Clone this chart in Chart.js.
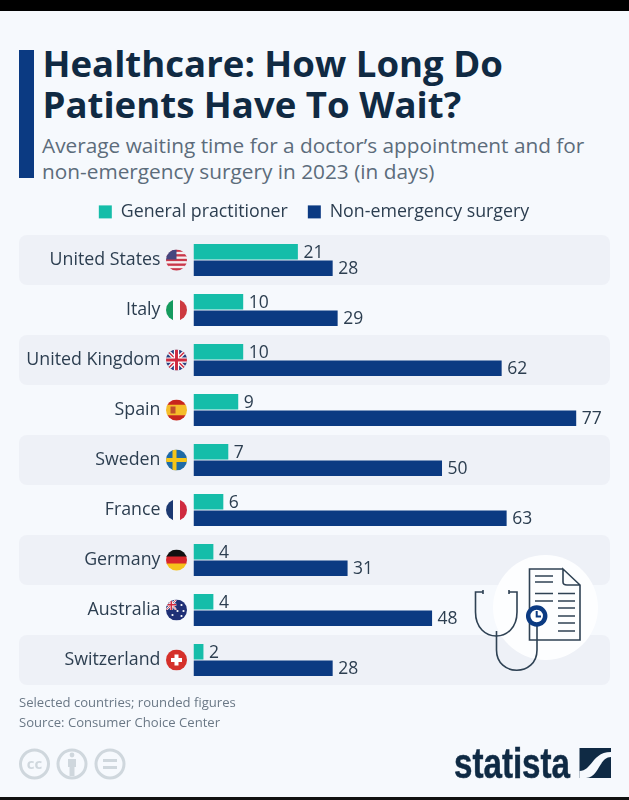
<!DOCTYPE html>
<html><head><meta charset="utf-8">
<script src="https://cdn.jsdelivr.net/npm/chart.js@4"></script>
<style>
html,body{margin:0;padding:0;background:#f6f9fd;width:629px;height:800px;overflow:hidden;font-family:"Open Sans",sans-serif}
.abs{position:absolute;white-space:nowrap}
#chart{position:absolute;left:0;top:0}
#art{position:absolute;left:0;top:0;pointer-events:none}
</style></head><body>
<div class="abs" style="left:0;top:0;width:629px;height:11px;background:#000"></div>
<div class="abs" style="left:0;top:797px;width:629px;height:3px;background:#111"></div>
<div class="abs" style="left:19px;top:50px;width:14.5px;height:128px;background:#0b3a82"></div>
<div class="abs" style="left:42.5px;top:43px;font-weight:700;font-size:36.6px;line-height:41px;color:#102a43">Healthcare: How Long Do<br>Patients Have To Wait?</div>
<div class="abs" style="left:42px;top:132px;font-size:20.8px;line-height:26px;color:#5c6c7b">Average waiting time for a doctor’s appointment and for<br>non-emergency surgery in 2023 (in days)</div>
<canvas id="chart" width="629" height="800" style="width:629px;height:800px"></canvas>
<svg id="art" width="629" height="800" viewBox="0 0 629 800">
  <circle cx="545.5" cy="607.5" r="52.5" fill="#fdfeff"/>
  <g fill="none" stroke="#2f4254" stroke-width="1.6">
    <path d="M563 569H529.5V640H580V585L563 569V582Q563 585 567 585H580"/>
    <path d="M535 576H553M535 582H553M535 593.5H553M535 601H553M558 593.5H575M558 601H575M558 608H575M558 616H575M558 623H575M558 631H575"/>
    <path d="M483 592H475.5V612C475.5 644 517 644 517 612V592H509M483 590V594M509 590V594"/>
    <path d="M496.5 631V650C496.5 677 537 677 537 650V625"/>
  </g>
  <circle cx="536.7" cy="616" r="8.5" fill="#fff" stroke="#0b3a82" stroke-width="4.5"/>
  <path d="M536.7 611V616.5H541" fill="none" stroke="#0b3a82" stroke-width="2"/>
  <g fill="none" stroke="#cfd7dd" stroke-width="3">
    <circle cx="34.5" cy="764" r="14"/><circle cx="72" cy="764" r="14"/><circle cx="110" cy="764" r="14"/>
  </g>
  <text x="34.5" y="769" text-anchor="middle" font-family="Open Sans" font-weight="700" font-size="15" fill="#cfd7dd">cc</text>
  <path d="M68 759h8v8h-1.5v9h-5v-9H68z" fill="#cfd7dd"/><circle cx="72" cy="755" r="2.4" fill="#cfd7dd"/>
  <path d="M103 760.5h14M103 767.5h14" stroke="#cfd7dd" stroke-width="3"/>
  <text x="454" y="778" font-family="Liberation Sans" font-weight="700" font-size="42" textLength="116" lengthAdjust="spacingAndGlyphs" fill="#0f2a44" stroke="#0f2a44" stroke-width=".5">statista</text>
  <rect x="579.5" y="748" width="31.5" height="30" fill="#0f2a44"/>
  <path d="M579.5 778V771C592 771 592 752 611 752V757C599 757 599 778 586 778Z" fill="#f6f9fd"/>
</svg>
<div class="abs" style="left:19px;top:692px;font-size:13.1px;line-height:20px;color:#6a7886">Selected countries; rounded figures<br>Source: Consumer Choice Center</div>
<script>
const countries = ["United States","Italy","United Kingdom","Spain","Sweden","France","Germany","Australia","Switzerland"];
const seriesNames = ["General practitioner","Non-emergency surgery"];
const generalPractitioner = [21,10,10,9,7,6,4,4,2];
const nonEmergencySurgery = [28,29,62,77,50,63,31,48,28];
const TEAL="#15bda9", NAVY="#0b3a82", INK="#2c3e50";

function stripesH(c,x,y,r,cols){const h=2*r/cols.length;cols.forEach((k,i)=>{c.fillStyle=k;c.fillRect(x-r,y-r+i*h,2*r,h+.5)})}
function stripesV(c,x,y,r,cols){const w=2*r/cols.length;cols.forEach((k,i)=>{c.fillStyle=k;c.fillRect(x-r+i*w,y-r,w+.5,2*r)})}
function line(c,col,w,pts){c.strokeStyle=col;c.lineWidth=w;c.beginPath();pts.forEach((p,i)=>i?c.lineTo(p[0],p[1]):c.moveTo(p[0],p[1]));c.stroke()}
function union(c,x,y,r){c.fillStyle="#2a3f7e";c.fillRect(x-r,y-r,2*r,2*r);
  line(c,"#fff",r*.38,[[x-r,y-r],[x+r,y+r]]);line(c,"#fff",r*.38,[[x-r,y+r],[x+r,y-r]]);
  line(c,"#cf2a3f",r*.14,[[x-r,y-r],[x+r,y+r]]);line(c,"#cf2a3f",r*.14,[[x-r,y+r],[x+r,y-r]]);
  line(c,"#fff",r*.5,[[x-r,y],[x+r,y]]);line(c,"#fff",r*.5,[[x,y-r],[x,y+r]]);
  line(c,"#cf2a3f",r*.28,[[x-r,y],[x+r,y]]);line(c,"#cf2a3f",r*.28,[[x,y-r],[x,y+r]]);}
function dot(c,x,y,s,col){c.fillStyle=col;c.beginPath();c.arc(x,y,s,0,7);c.fill()}
const flags={
 "United States":(c,x,y,r)=>{stripesH(c,x,y,r,["#c9374a","#f5eef0","#c9374a","#f5eef0","#c9374a","#f5eef0","#c9374a","#f5eef0","#c9374a"]);c.fillStyle="#46467f";c.fillRect(x-r,y-r,r,r*.95)},
 "Italy":(c,x,y,r)=>stripesV(c,x,y,r,["#169b5e","#fbfbfb","#cd3a40"]),
 "United Kingdom":union,
 "Spain":(c,x,y,r)=>{stripesH(c,x,y,r,["#c8261d","#f5bd2a","#f5bd2a","#c8261d"]);c.fillStyle="#c0502a";c.fillRect(x-6,y-3.5,5,7)},
 "Sweden":(c,x,y,r)=>{c.fillStyle="#1f6aa5";c.fillRect(x-r,y-r,2*r,2*r);c.fillStyle="#f5c518";c.fillRect(x-r,y-2,2*r,4);c.fillRect(x-4,y-r,4,2*r)},
 "France":(c,x,y,r)=>stripesV(c,x,y,r,["#1d3a72","#fbfbfb","#cf2a3f"]),
 "Germany":(c,x,y,r)=>stripesH(c,x,y,r,["#111","#d8262c","#f6c21c"]),
 "Australia":(c,x,y,r)=>{c.fillStyle="#1f3076";c.fillRect(x-r,y-r,2*r,2*r);
   c.save();c.beginPath();c.rect(x-r,y-r,r,r);c.clip();union(c,x-r/2,y-r/2,r/2);c.restore();
   [[-4,5],[5,-5],[1,1],[7,1],[5,6]].forEach(p=>dot(c,x+p[0],y+p[1],1.1,"#fff"))},
 "Switzerland":(c,x,y,r)=>{c.fillStyle="#d5302a";c.fillRect(x-r,y-r,2*r,2*r);c.fillStyle="#fff";c.fillRect(x-5.5,y-2,11,4);c.fillRect(x-2,y-5.5,4,11)}
};
const rowDecor={id:"rowDecor",
 beforeLayout(chart){const l=chart.legend;if(l&&!l._trim){l._trim=true;const f=l.fit;l.fit=function(){f.call(this);this.height=52}}},
 beforeDraw(chart){const c=chart.ctx,y=chart.scales.y,a=chart.chartArea,h=y.getPixelForValue(1)-y.getPixelForValue(0);
  c.save();c.fillStyle="#eef1f7";countries.forEach((n,i)=>{if(i%2)return;const p=y.getPixelForValue(i);c.beginPath();c.roundRect(19,p-h/2,a.right-19-1,h,8);c.fill()});
  countries.forEach((n,i)=>{const p=y.getPixelForValue(i),fx=176.5,r=10.5;c.save();c.beginPath();c.arc(fx,p,r,0,7);c.clip();flags[n](c,fx,p,r);c.restore()});
  c.restore()},
 afterDatasetsDraw(chart){const c=chart.ctx;c.save();c.font='17.5px "Open Sans"';c.fillStyle=INK;c.textBaseline="middle";c.textAlign="left";
  chart.data.datasets.forEach((d,di)=>chart.getDatasetMeta(di).data.forEach((b,i)=>c.fillText(String(d.data[i]),b.x+5.5,b.y+(di?.5:1))));c.restore()}
};
new Chart(document.getElementById("chart"),{type:"bar",plugins:[rowDecor],
 data:{labels:countries,datasets:[
  {label:seriesNames[0],data:generalPractitioner,backgroundColor:TEAL},
  {label:seriesNames[1],data:nonEmergencySurgery,backgroundColor:NAVY}]},
 options:{indexAxis:"y",responsive:false,animation:false,devicePixelRatio:1,
  categoryPercentage:.66,barPercentage:.93,
  layout:{padding:{top:183,right:18,bottom:115,left:17}},
  plugins:{tooltip:{enabled:false},
   legend:{position:"top",align:"center",labels:{boxWidth:13,boxHeight:13,padding:20,color:INK,font:{family:"Open Sans",size:17.8}}}},
  scales:{
   x:{display:false,min:0,max:84,grid:{display:false}},
   y:{afterFit(s){s.width=176.5},grid:{display:false,drawTicks:false},border:{display:false},
      ticks:{padding:33,color:INK,font:{family:"Open Sans",size:17.8},autoSkip:false}}
  }}});
</script>
</body></html>
